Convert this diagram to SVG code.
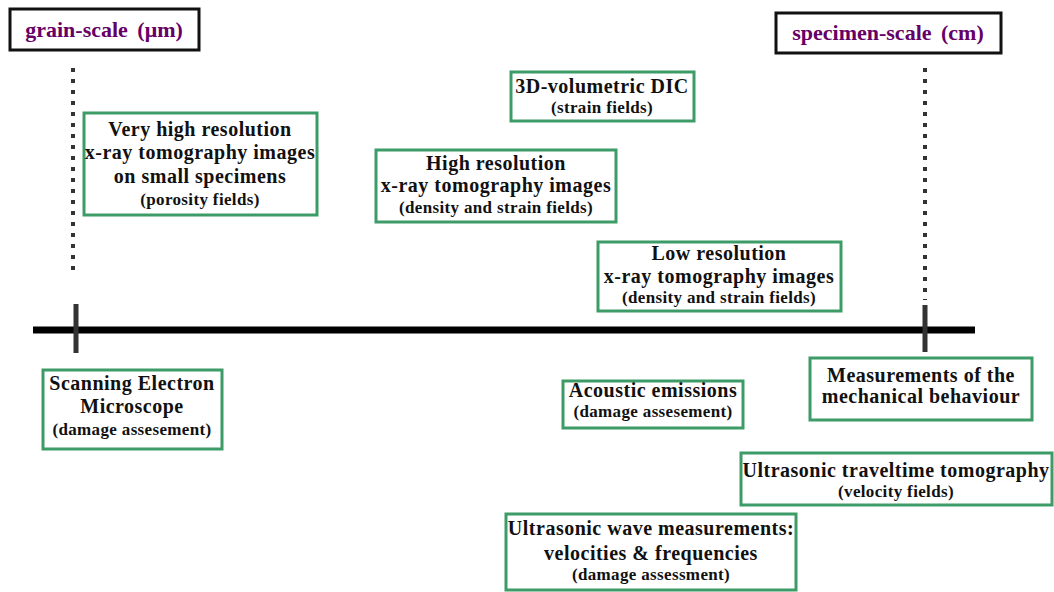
<svg xmlns="http://www.w3.org/2000/svg" width="1054" height="592" viewBox="0 0 1054 592">
<style>
.t{font-family:"Liberation Serif","Times New Roman",serif;font-weight:bold;fill:#111;text-anchor:middle}
.m{font-size:20px;letter-spacing:0.5px}
.s{font-size:17px;letter-spacing:0.35px}
.h{font-family:"Liberation Serif","Times New Roman",serif;font-weight:bold;fill:#660066;font-size:22px;text-anchor:middle;word-spacing:4px}
.g{fill:#fff;stroke:#3d9b68;stroke-width:3}
.k{fill:#fff;stroke:#111;stroke-width:3}
.dot{stroke:#333;stroke-width:4;stroke-dasharray:4 7;fill:none}
</style>
<rect width="1054" height="592" fill="#fff"/>
<g id="axis">
<line x1="33" y1="330" x2="975" y2="330" stroke="#000" stroke-width="7"/>
<line x1="76" y1="304" x2="76" y2="353" stroke="#333" stroke-width="5"/>
<line x1="925" y1="305" x2="925" y2="352" stroke="#333" stroke-width="5"/>
<line class="dot" x1="73" y1="68" x2="73" y2="272"/>
<line class="dot" x1="925" y1="68" x2="925" y2="300"/>
</g>
<g id="grain">
<rect class="k" x="10" y="9" width="189" height="41"/>
<text class="h" x="104" y="37">grain-scale (μm)</text>
</g>
<g id="specimen">
<rect class="k" x="776" y="13" width="225" height="40"/>
<text class="h" x="888" y="40">specimen-scale (cm)</text>
</g>
<g id="vhr">
<rect class="g" x="84" y="113" width="233" height="102"/>
<text class="t m" x="200" y="136">Very high resolution</text>
<text class="t m" x="200" y="159">x-ray tomography images</text>
<text class="t m" x="200" y="183">on small specimens</text>
<text class="t s" x="200" y="205">(porosity fields)</text>
</g>
<g id="dic">
<rect class="g" x="511" y="72" width="183" height="49"/>
<text class="t m" x="602" y="93">3D-volumetric DIC</text>
<text class="t s" x="602" y="113">(strain fields)</text>
</g>
<g id="hr">
<rect class="g" x="376" y="150" width="240" height="72"/>
<text class="t m" x="496" y="170">High resolution</text>
<text class="t m" x="496" y="192">x-ray tomography images</text>
<text class="t s" x="496" y="213">(density and strain fields)</text>
</g>
<g id="lr">
<rect class="g" x="598" y="242" width="243" height="69"/>
<text class="t m" x="719" y="260">Low resolution</text>
<text class="t m" x="719" y="283">x-ray tomography images</text>
<text class="t s" x="719" y="303">(density and strain fields)</text>
</g>
<g id="sem">
<rect class="g" x="43" y="370" width="179" height="79"/>
<text class="t m" x="132" y="390">Scanning Electron</text>
<text class="t m" x="132" y="413">Microscope</text>
<text class="t s" x="132" y="435">(damage assesement)</text>
</g>
<g id="ae">
<rect class="g" x="563" y="381" width="180" height="47"/>
<text class="t m" x="653" y="397">Acoustic emissions</text>
<text class="t s" x="653" y="417">(damage assesement)</text>
</g>
<g id="mech">
<rect class="g" x="810" y="358" width="222" height="62"/>
<text class="t m" x="921" y="382">Measurements of the</text>
<text class="t m" x="921" y="403">mechanical behaviour</text>
</g>
<g id="utt">
<rect class="g" x="741" y="453" width="311" height="52"/>
<text class="t m" x="896" y="477">Ultrasonic traveltime tomography</text>
<text class="t s" x="896" y="497">(velocity fields)</text>
</g>
<g id="uwm">
<rect class="g" x="506" y="514" width="290" height="76"/>
<text class="t m" x="651" y="535">Ultrasonic wave measurements:</text>
<text class="t m" x="651" y="560">velocities &amp; frequencies</text>
<text class="t s" x="651" y="580">(damage assessment)</text>
</g>
</svg>
